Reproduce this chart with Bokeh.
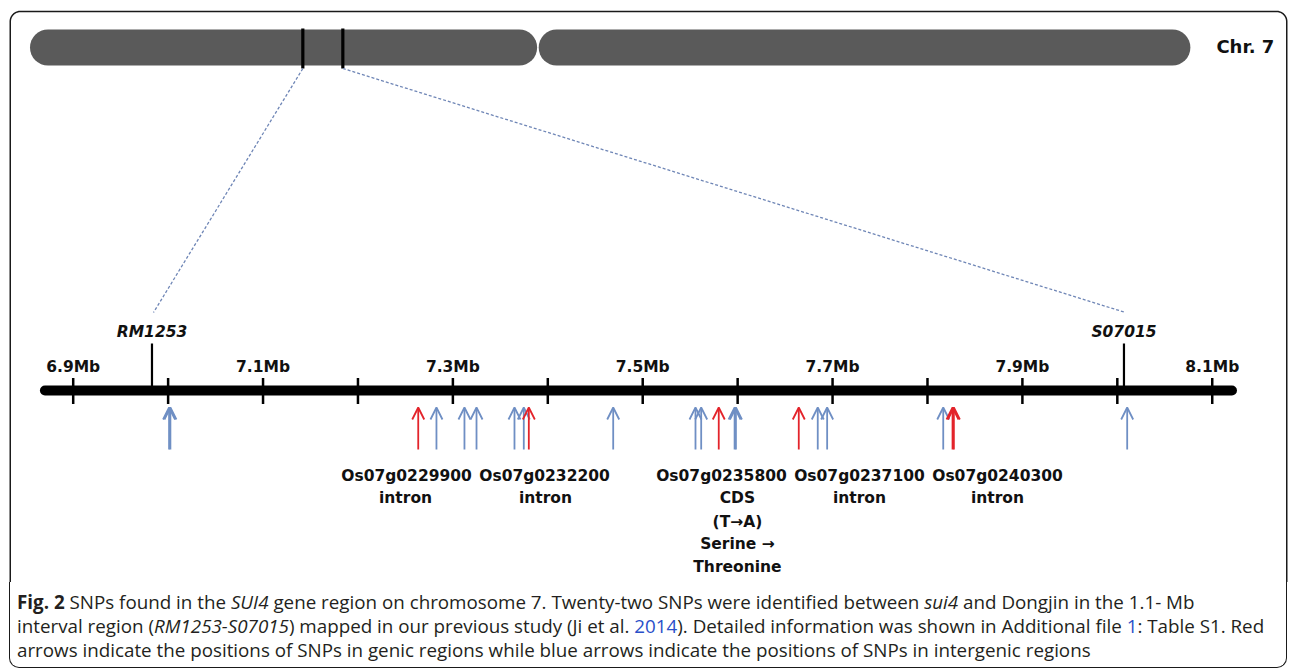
import numpy as np
from bokeh.plotting import figure
from bokeh.models import Range1d, Div, Arrow, OpenHead, ColumnDataSource
from bokeh.layouts import column
from bokeh.core.properties import value
from bokeh.embed import file_html
from bokeh.resources import INLINE

# ---------------- data ----------------
chrom_label = "Chr. 7"
chrom_length_mb = 29.7
chrom_arms_mb = [(0.0, 12.98), (13.02, 29.7)]

marker_names = ["RM1253", "S07015"]
marker_mb = [6.983, 8.007]

tick_mb = [6.9, 7.0, 7.1, 7.2, 7.3, 7.4, 7.5, 7.6, 7.7, 7.8, 7.9, 8.0, 8.1]
tick_label_mb = [6.9, 7.1, 7.3, 7.5, 7.7, 7.9, 8.1]
tick_labels = ["6.9Mb", "7.1Mb", "7.3Mb", "7.5Mb", "7.7Mb", "7.9Mb", "8.1Mb"]
axis_extent_mb = (6.866, 8.125)

# 22 SNPs (overlapping pairs drawn on top of each other)
snp_mb = [7.0010, 7.0024, 7.2635, 7.2827, 7.3122, 7.3249, 7.3649, 7.3747,
          7.3800, 7.4689, 7.5556, 7.5616, 7.5801, 7.5968, 7.5982, 7.6644,
          7.6844, 7.6943, 7.8166, 7.8264, 7.8278, 8.0104]
snp_type = ["intergenic", "intergenic", "genic", "intergenic", "intergenic",
            "intergenic", "intergenic", "intergenic", "genic", "intergenic",
            "intergenic", "intergenic", "genic", "intergenic", "intergenic",
            "genic", "intergenic", "intergenic", "intergenic", "genic", "genic",
            "intergenic"]

gene_ids = ["Os07g0229900", "Os07g0232200", "Os07g0235800", "Os07g0237100", "Os07g0240300"]
gene_snp_mb = [7.2635, 7.3800, 7.5801, 7.6644, 7.8271]
gene_notes = [["intron"], ["intron"], ["CDS", "(T\u2192A)", "Serine \u2192", "Threonine"],
              ["intron"], ["intron"]]

# ---------------- layout ----------------
W, H = 1292, 582
main_px_per_mb = 949.2
main_start = 6.9 - 72.7 / main_px_per_mb
main_end = main_start + W / main_px_per_mb
chr_px_per_mb = 39.07
chr_start = -29.5 / chr_px_per_mb
chr_end = chr_start + W / chr_px_per_mb


def main_px(v):
    return (np.asarray(v) - main_start) * main_px_per_mb


def chr_px(v):
    return (np.asarray(v) - chr_start) * chr_px_per_mb


p = figure(width=W, height=H, x_range=Range1d(main_start, main_end),
           y_range=Range1d(H, 0), output_backend="svg", toolbar_location=None,
           min_border=0, x_axis_location=None, y_axis_location=None,
           outline_line_color=None)
p.grid.visible = False
p.extra_x_ranges = {"chr": Range1d(chr_start, chr_end), "px": Range1d(0, W)}

LFONT = value("DejaVu Sans")
INK = "#111111"

# frame (upper part; bottom part belongs to the caption box)
r = 10
xl, xr, yt = 9.75, 1286.25, 11
th1 = np.linspace(np.pi, 1.5 * np.pi, 12)
th2 = np.linspace(1.5 * np.pi, 2 * np.pi, 12)
fx = np.concatenate([[xl], xl + r + r * np.cos(th1), xr - r + r * np.cos(th2), [xr]])
fy = np.concatenate([[H], yt + r + r * np.sin(th1), yt + r + r * np.sin(th2), [H]])
p.line(fx, fy, x_range_name="px", line_color="#1a1a1a", line_width=1.5)

# chromosome
cap = 18 / chr_px_per_mb
p.segment(x0=[a + cap for a, b in chrom_arms_mb], x1=[b - cap for a, b in chrom_arms_mb],
          y0=47, y1=47, x_range_name="chr", line_width=36, line_cap="round",
          line_color="#5a5a5a")
p.segment(x0=marker_mb, x1=marker_mb, y0=28, y1=68, x_range_name="chr",
          line_width=3.2, line_color="black")
p.text(x=[chr_px(chrom_length_mb) + 55], y=[46], text=[chrom_label], x_range_name="px",
       text_font=LFONT, text_font_style="bold", text_font_size="18px",
       text_align="center", text_baseline="middle", text_color=INK)

# connectors
p.segment(x0=chr_px(marker_mb), y0=68, x1=main_px(marker_mb) + 1.5, y1=312,
          x_range_name="px", line_color="#6f86b6", line_width=1.3, line_dash="3 2")

# main axis
p.segment(x0=[axis_extent_mb[0] + 4 / main_px_per_mb], x1=[axis_extent_mb[1] - 4 / main_px_per_mb],
          y0=390, y1=390, line_width=10, line_color="black", line_cap="round")
p.segment(x0=tick_mb, x1=tick_mb, y0=377.5, y1=403.5, line_width=2.5, line_color="black")
p.text(x=tick_label_mb, y=366, text=tick_labels, text_font=LFONT, text_font_style="bold",
       text_font_size="15.5px", text_align="center", text_baseline="middle", text_color=INK)

# markers
p.segment(x0=marker_mb, x1=marker_mb, y0=343, y1=388, line_width=2.2, line_color="black")
p.text(x=marker_mb, y=331, text=marker_names, text_font=LFONT, text_font_style="bold italic",
       text_font_size="15.5px", text_align="center", text_baseline="middle", text_color=INK)

# SNP arrows
colors = {"genic": "#e3242b", "intergenic": "#6f8fc4"}
for kind in ["intergenic", "genic"]:
    xs = [x for x, t in zip(snp_mb, snp_type) if t == kind]
    src = ColumnDataSource(dict(x0=xs, x1=xs, y0=[449] * len(xs), y1=[407] * len(xs)))
    p.add_layout(Arrow(source=src, x_start="x0", y_start="y0", x_end="x1", y_end="y1",
                       line_color=colors[kind], line_width=1.8,
                       end=OpenHead(size=12, line_color=colors[kind], line_width=1.8)))

# gene annotations (label centres relative to each gene's SNP, in pixels)
label_offset_px = [-11.7, 15.7, 2.7, 60.7, 44.3]
note_shift_px = [-1, 1, 16, 0, 0]
row_y = [475, 497, 521, 543, 566]
gx, gy, gt = [], [], []
for gid, gm, off, ns, notes in zip(gene_ids, gene_snp_mb, label_offset_px, note_shift_px, gene_notes):
    cx = float(main_px(gm)) + off
    gx.append(cx)
    gy.append(row_y[0])
    gt.append(gid)
    for i, t in enumerate(notes):
        gx.append(cx + ns)
        gy.append(row_y[i + 1])
        gt.append(t)
p.text(x=gx, y=gy, text=gt, x_range_name="px", text_font=LFONT, text_font_style="bold",
       text_font_size="15.5px", text_align="center", text_baseline="middle", text_color=INK)

# caption
blue = "#2a4fc9"
caption = (
    '<div style="font-family:\'Open Sans\',sans-serif;font-size:18.8px;line-height:24px;'
    'color:#231f20;white-space:nowrap;padding:8px 0 0 7px;">'
    '<b>Fig. 2</b> SNPs found in the <i>SUI4</i> gene region on chromosome 7. '
    'Twenty-two SNPs were identified between <i>sui4</i> and Dongjin in the 1.1- Mb<br>'
    'interval region (<i>RM1253-S07015</i>) mapped in our previous study (Ji et al. '
    f'<span style="color:{blue}">2014</span>). Detailed information was shown in Additional file '
    f'<span style="color:{blue}">1</span>: Table S1. Red<br>'
    'arrows indicate the positions of SNPs in genic regions while blue arrows indicate '
    'the positions of SNPs in intergenic regions</div>'
)
div = Div(text=caption, width=1278, height=668 - H, margin=(0, 0, 0, 9),
          styles={"border-left": "1.5px solid #1a1a1a", "border-right": "1.5px solid #1a1a1a",
                  "border-bottom": "1.5px solid #1a1a1a", "border-bottom-left-radius": "10px",
                  "border-bottom-right-radius": "10px", "box-sizing": "border-box"})

layout = column(p, div, spacing=0)
open("out.html", "w").write(file_html(layout, INLINE))
